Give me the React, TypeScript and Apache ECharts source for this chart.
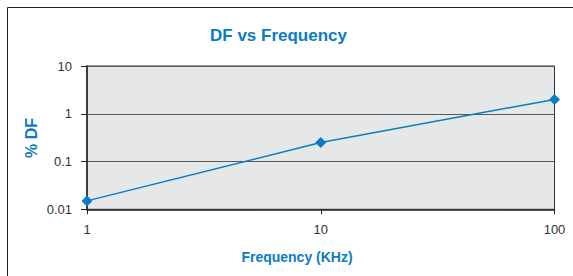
import React, { useEffect, useRef } from "react";
import * as echarts from "echarts";

const frequencies = [1, 10, 100];
const dfValues = [0.015, 0.25, 2];
const titleText = "DF vs Frequency";
const xName = "Frequency (KHz)";
const yName = "% DF";

const BLUE = "#0a7cc2";
const FONT = "'Liberation Sans', Arial, sans-serif";

export default function App() {
  const ref = useRef<HTMLDivElement>(null);
  useEffect(() => {
    if (!ref.current) return;
    const chart = echarts.init(ref.current, null, { renderer: "svg" });
    const fmt = (v: number) => {
      if (v >= 1) return String(Math.round(v));
      return String(parseFloat(v.toPrecision(3)));
    };
    chart.setOption({
      animation: false,
      backgroundColor: "#ffffff",
      title: {
        text: titleText,
        left: 210,
        top: 27,
        padding: 0,
        textStyle: { color: BLUE, fontSize: 17, fontWeight: "bold", fontFamily: FONT },
      },
      graphic: [
        {
          type: "rect",
          shape: { x: 7.5, y: 7.5, width: 700, height: 400 },
          style: { fill: "none", stroke: "#222", lineWidth: 1 },
          silent: true,
          z: 100,
        },
        {
          type: "text",
          x: 297,
          y: 257,
          style: {
            text: xName,
            fill: BLUE,
            font: `bold 14px ${FONT}`,
            align: "center",
            verticalAlign: "middle",
          },
        },
        {
          type: "text",
          x: 31,
          y: 138,
          rotation: Math.PI / 2,
          style: {
            text: yName,
            fill: BLUE,
            font: `bold 16px ${FONT}`,
            align: "center",
            verticalAlign: "middle",
          },
        },
      ],
      grid: {
        left: 87,
        top: 66,
        right: 18.5,
        bottom: 66.7,
        show: true,
        backgroundColor: "#e6e7e9",
        borderColor: "#333",
        borderWidth: 1,
      },
      xAxis: {
        type: "log",
        logBase: 10,
        min: 1,
        max: 100,
        axisLine: { show: true, lineStyle: { color: "#222", width: 1.5 } },
        axisTick: { show: true, length: 5, lineStyle: { color: "#222" } },
        axisLabel: {
          color: "#333",
          fontSize: 13,
          fontFamily: FONT,
          margin: 14,
          formatter: fmt,
        },
        splitLine: { show: false },
        minorTick: { show: false },
      },
      yAxis: {
        type: "log",
        logBase: 10,
        min: 0.01,
        max: 10,
        axisLine: { show: true, lineStyle: { color: "#222", width: 1.5 } },
        axisTick: { show: true, length: 6, lineStyle: { color: "#222" } },
        axisLabel: {
          color: "#333",
          fontSize: 13,
          fontFamily: FONT,
          margin: 15,
          formatter: fmt,
        },
        splitLine: { show: true, lineStyle: { color: "#5a5a5a", width: 1 } },
      },
      series: [
        {
          type: "line",
          data: frequencies.map((f, i) => [f, dfValues[i]]),
          symbol: "diamond",
          symbolSize: 11,
          lineStyle: { color: BLUE, width: 1.5 },
          itemStyle: { color: BLUE },
          z: 10,
        },
      ],
    });
    return () => chart.dispose();
  }, []);
  return (
    <div
      ref={ref}
      style={{ position: "fixed", left: 0, top: 0, width: 573, height: 276 }}
    />
  );
}
